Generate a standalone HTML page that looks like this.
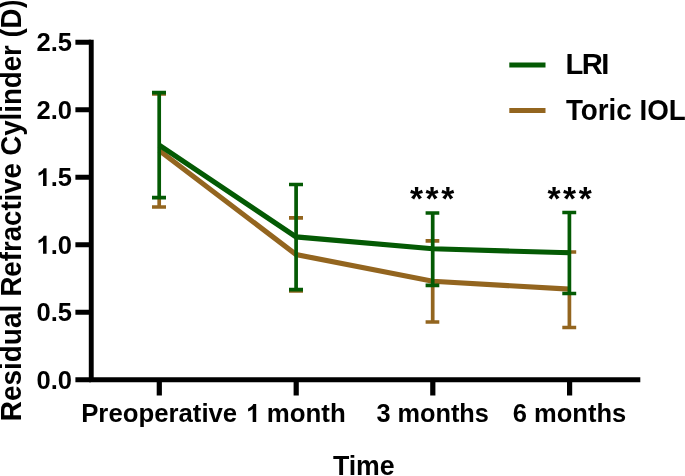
<!DOCTYPE html>
<html>
<head>
<meta charset="utf-8">
<title>Residual Refractive Cylinder</title>
<style>
html,body{margin:0;padding:0;background:#fff;overflow:hidden;}
body{width:685px;height:476px;overflow:hidden;position:relative;}
svg{display:block;position:absolute;left:-20px;top:-20px;filter:blur(0.4px);}
text{font-family:"Liberation Sans",sans-serif;font-weight:bold;fill:#000;}
</style>
</head>
<body>
<svg width="725" height="516" viewBox="-20 -20 725 516">
<rect x="-20" y="-20" width="725" height="516" fill="#ffffff"/>

<!-- error bars: Toric IOL (brown) -->
<g id="eb-brown" stroke="#93651f" stroke-width="3.7" fill="none" stroke-linecap="butt">
  <path d="M159.2 197V207 M152 93.8H166 M152 207H166"/>
  <path d="M296.1 289V290.9 M289 217.8H303 M289 290.9H303"/>
  <path d="M432.7 285V322 M425.6 240.8H439.3 M425.6 322H439.3"/>
  <path d="M569.4 293V327.5 M562.3 252H576.2 M562.3 327.5H576.2"/>
</g>
<!-- line: Toric IOL -->
<polyline id="ln-brown" points="159.2,150.5 296.1,254.6 432.7,281.3 569.4,289.1" fill="none" stroke="#93651f" stroke-width="5.1" stroke-linejoin="miter"/>

<!-- error bars: LRI (green) -->
<g id="eb-green" stroke="#045a04" stroke-width="3.7" fill="none" stroke-linecap="butt">
  <path d="M159.2 92.6V197.6 M152 92.6H166 M152 197.6H166"/>
  <path d="M296.1 184.5V289.6 M289 184.5H303 M289 289.6H303"/>
  <path d="M432.7 213V285.4 M425.6 213H439.3 M425.6 285.4H439.3"/>
  <path d="M569.4 212.5V293.5 M562.3 212.5H576.2 M562.3 293.5H576.2"/>
</g>
<!-- line: LRI -->
<polyline id="ln-green" points="159.2,145.2 296.1,236.9 432.7,248.8 569.4,252.8" fill="none" stroke="#045a04" stroke-width="5.1" stroke-linejoin="miter"/>

<!-- axes -->
<g id="axes" stroke="#000" stroke-width="4.9" fill="none" stroke-linecap="butt">
  <path d="M91.25 39.7V382.1"/>
  <path d="M89 379.8H640.3"/>
  <path d="M75.4 42.2H91 M75.4 109.7H91 M75.4 177.2H91 M75.4 244.7H91 M75.4 312.2H91 M75.4 379.8H91"/>
  <path d="M159.3 380V395.4 M296.2 380V395.4 M432.8 380V395.4 M569.6 380V395.4" stroke-width="5.2"/>
</g>

<!-- y tick labels -->
<g id="ylabels" font-size="25" text-anchor="end">
  <text x="72" y="51.0" textLength="35.5" lengthAdjust="spacingAndGlyphs">2.5</text>
  <text x="72" y="118.6" textLength="35.5" lengthAdjust="spacingAndGlyphs">2.0</text>
  <text x="72" y="186.1" textLength="21.3" lengthAdjust="spacingAndGlyphs">.5</text>
  <path d="M806 0H525V1059Q371 915 162 846V1101Q272 1137 401 1237.5Q530 1338 578 1472H806Z" transform="translate(36.5,186.1) scale(0.01247,-0.012207)"/>
  <text x="72" y="253.7" textLength="21.3" lengthAdjust="spacingAndGlyphs">.0</text>
  <path d="M806 0H525V1059Q371 915 162 846V1101Q272 1137 401 1237.5Q530 1338 578 1472H806Z" transform="translate(36.5,253.7) scale(0.01247,-0.012207)"/>
  <text x="72" y="321.2" textLength="35.5" lengthAdjust="spacingAndGlyphs">0.5</text>
  <text x="72" y="388.8" textLength="35.5" lengthAdjust="spacingAndGlyphs">0.0</text>
</g>

<!-- x tick labels -->
<g id="xlabels" font-size="25">
  <text x="81.2" y="421.9" textLength="156" lengthAdjust="spacingAndGlyphs">Preoperative</text>
  <text x="266.7" y="421.9" textLength="79" lengthAdjust="spacingAndGlyphs">month</text>
  <path d="M806 0H525V1059Q371 915 162 846V1101Q272 1137 401 1237.5Q530 1338 578 1472H806Z" transform="translate(246.07,421.9) scale(0.01257,-0.012207)"/>
  <text x="376.4" y="421.9" textLength="112.5" lengthAdjust="spacingAndGlyphs">3 months</text>
  <text x="512.8" y="421.9" textLength="113.4" lengthAdjust="spacingAndGlyphs">6 months</text>
</g>

<!-- axis titles -->
<text id="xtitle" x="332.9" y="474.8" font-size="28.5" textLength="61.8" lengthAdjust="spacingAndGlyphs">Time</text>
<g id="ytitle" transform="translate(21.2,421.3) rotate(-90)" font-size="28.8">
  <text x="0" y="0" textLength="116.5" lengthAdjust="spacingAndGlyphs">Residual</text>
  <text x="124.7" y="0" textLength="133.6" lengthAdjust="spacingAndGlyphs">Refractive</text>
  <text x="265.5" y="0" textLength="110.6" lengthAdjust="spacingAndGlyphs">Cylinder</text>
  <text x="383.7" y="0" textLength="29.26" lengthAdjust="spacingAndGlyphs">(D</text>
  <text x="413.4" y="0" textLength="8.3" lengthAdjust="spacingAndGlyphs">)</text>
</g>

<!-- significance -->
<g id="stars" font-size="33.5" text-anchor="middle" style="letter-spacing:2.55px">
  <text x="433.4" y="210">***</text>
  <text x="570.9" y="210.4">***</text>
</g>

<!-- legend -->
<path d="M509.3 65H545.5" stroke="#045a04" stroke-width="5" fill="none"/>
<path d="M509.3 110.5H545.5" stroke="#93651f" stroke-width="5" fill="none"/>
<g id="legend" font-size="29.2">
  <text x="565.6" y="73.8" style="letter-spacing:-1.6px">LRI</text>
  <text x="565.9" y="119.7" font-size="29.4" textLength="119.9" lengthAdjust="spacingAndGlyphs">Toric IOL</text>
</g>
</svg>
</body>
</html>
